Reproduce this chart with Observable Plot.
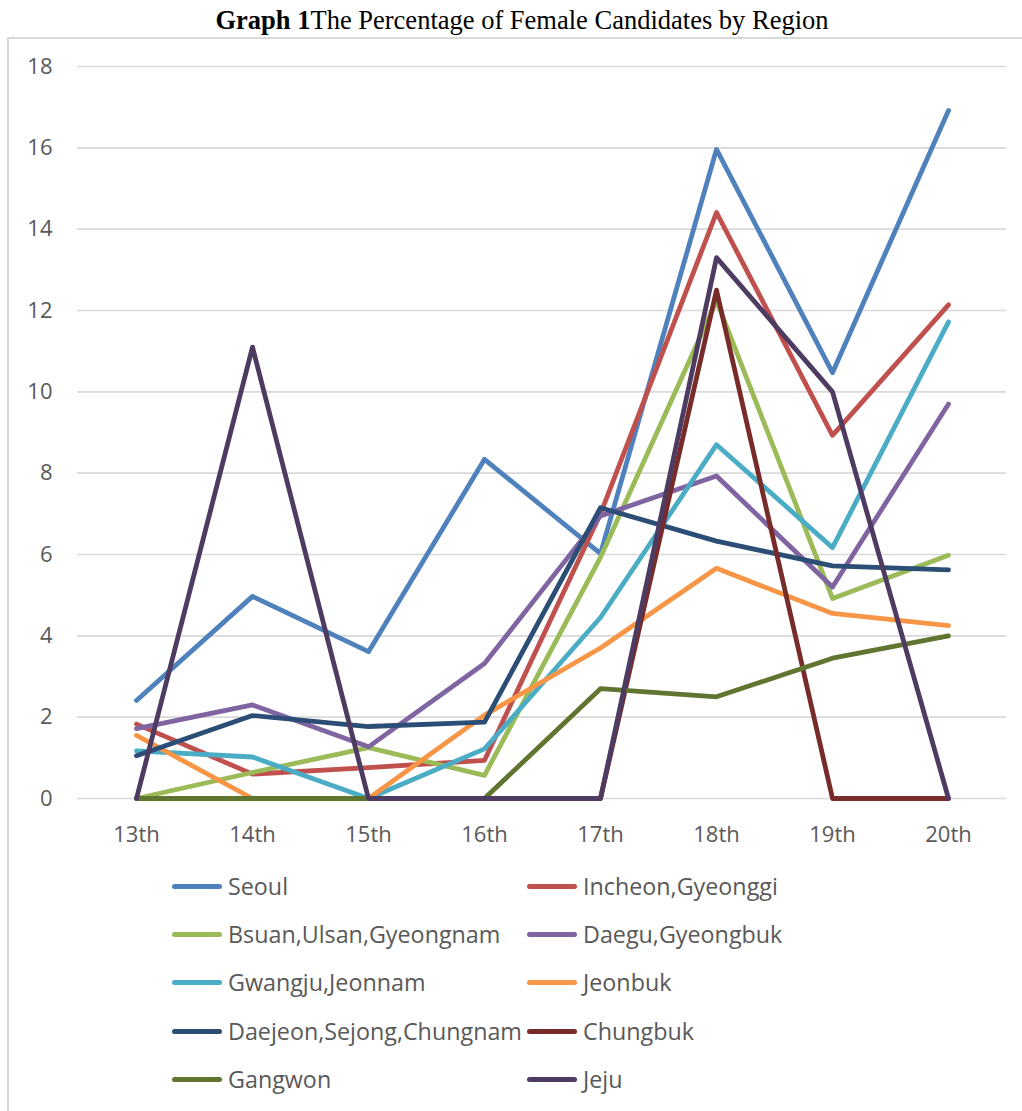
<!DOCTYPE html>
<html>
<head>
<meta charset="utf-8">
<script src="https://cdn.jsdelivr.net/npm/d3@7"></script>
<script src="https://cdn.jsdelivr.net/npm/@observablehq/plot@0.6"></script>
<style>
  html, body { margin: 0; padding: 0; background: #fff; }
  body { width: 1022px; height: 1111px; position: relative; overflow: hidden; }
  #title { position: absolute; left: 0; top: 5px; width: 1044px; text-align: center;
    font-family: "Liberation Serif", "Times New Roman", serif; font-size: 26.5px; color: #000; }
  #frame { position: absolute; left: 7px; top: 37px; width: 1040px; height: 1100px;
    border-left: 2px solid #d9d9d9; border-top: 2px solid #d9d9d9; }
  #chart { position: absolute; left: 9px; top: 39px; }
  .leg { position: absolute; font-family: "Open Sans", sans-serif; font-size: 23.3px; color: #595959;
    display: flex; align-items: center; white-space: nowrap; }
  .sw { width: 50px; height: 5px; border-radius: 3px; margin-right: 6px; }
</style>
</head>
<body>
<div id="title"><b>Graph 1</b>The Percentage of Female Candidates by Region</div>
<div id="frame"></div>
<div id="chart"></div>
<div id="legend"></div>
<script>
const sessions = ["13th", "14th", "15th", "16th", "17th", "18th", "19th", "20th"];
const regions = ["Seoul", "Incheon,Gyeonggi", "Bsuan,Ulsan,Gyeongnam", "Daegu,Gyeongbuk",
  "Gwangju,Jeonnam", "Jeonbuk", "Daejeon,Sejong,Chungnam", "Chungbuk", "Gangwon", "Jeju"];
const colors = ["#4F81BD", "#C0504D", "#9BBB59", "#8064A2", "#4BACC6", "#F79646",
  "#2C4D75", "#772C2A", "#5F7530", "#4D3B62"];

const seoul    = [2.41, 4.97, 3.61, 8.34, 6.02, 15.96, 10.47, 16.92];
const incheon  = [1.83, 0.60, 0.76, 0.94, 7.00, 14.41, 8.93, 12.14];
const bsuan    = [0.00, 0.64, 1.25, 0.57, 5.93, 12.24, 4.92, 5.98];
const daegu    = [1.72, 2.30, 1.27, 3.32, 6.95, 7.93, 5.20, 9.70];
const gwangju  = [1.17, 1.02, 0.00, 1.22, 4.45, 8.70, 6.17, 11.72];
const jeonbuk  = [1.55, 0.00, 0.00, 2.05, 3.70, 5.66, 4.55, 4.25];
const daejeon  = [1.05, 2.04, 1.77, 1.88, 7.15, 6.33, 5.72, 5.62];
const chungbuk = [0.00, 0.00, 0.00, 0.00, 0.00, 12.50, 0.00, 0.00];
const gangwon  = [0.00, 0.00, 0.00, 0.00, 2.70, 2.50, 3.45, 4.00];
const jeju     = [0.00, 11.10, 0.00, 0.00, 0.00, 13.30, 10.00, 0.00];
const yTicks = [0, 2, 4, 6, 8, 10, 12, 14, 16, 18];

const seriesValues = [seoul, incheon, bsuan, daegu, gwangju, jeonbuk, daejeon, chungbuk, gangwon, jeju];
const data = regions.flatMap((r, i) => sessions.map((s, j) => ({region: r, session: s, value: seriesValues[i][j]})));

const chart = Plot.plot({
  width: 1008,
  height: 819,
  marginLeft: 68,
  marginRight: 11,
  marginTop: 27,
  marginBottom: 60,
  style: { fontFamily: "'Open Sans', sans-serif", fontSize: "22px", color: "#595959", background: "transparent" },
  x: { type: "point", domain: sessions, padding: 0.5, label: null },
  y: { domain: [0, 18], label: null },
  color: { domain: regions, range: colors },
  marks: [
    Plot.ruleY(yTicks, { stroke: "#d9d9d9", strokeWidth: 1.6 }),
    Plot.axisY({ ticks: yTicks, tickSize: 0, tickPadding: 25, label: null, fontSize: 22, fill: "#595959" }),
    Plot.axisX({ tickSize: 0, tickPadding: 28, label: null, fontSize: 22, fill: "#595959" }),
    Plot.line(data, { x: "session", y: "value", z: "region", stroke: "region",
      strokeWidth: 4.8, strokeLinecap: "round", strokeLinejoin: "round" })
  ]
});
document.getElementById("chart").appendChild(chart);

const legend = document.getElementById("legend");
const rowY = [886, 934, 982, 1031, 1079];
regions.forEach((r, i) => {
  const col = i % 2, row = Math.floor(i / 2);
  const d = document.createElement("div");
  d.className = "leg";
  d.style.left = (col === 0 ? 172 : 527) + "px";
  d.style.top = (rowY[row] - 15) + "px";
  d.style.height = "30px";
  const sw = document.createElement("div");
  sw.className = "sw";
  sw.style.background = colors[i];
  const t = document.createElement("span");
  t.textContent = r;
  d.appendChild(sw); d.appendChild(t);
  legend.appendChild(d);
});
</script>
</body>
</html>
